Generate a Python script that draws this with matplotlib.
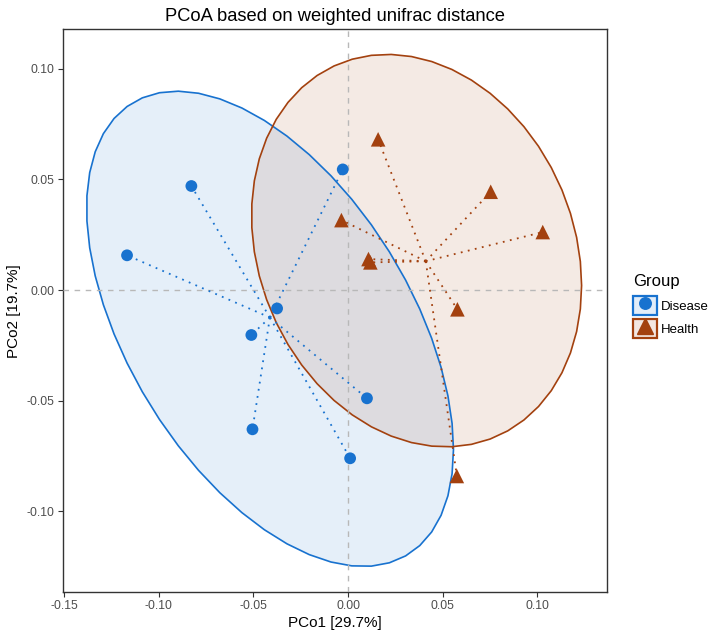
import numpy as np
import matplotlib
matplotlib.use("Agg")
import matplotlib.pyplot as plt
from matplotlib.patches import Patch, Polygon
from matplotlib.lines import Line2D
from matplotlib.legend_handler import HandlerTuple

plt.rcParams['font.family'] = ['Liberation Sans', 'DejaVu Sans']
plt.rcParams['axes.unicode_minus'] = False

# ---- data ----
groups = ["Disease", "Health"]
disease_x = [-0.0828, -0.1168, -0.0028, -0.0375, -0.0511, 0.0100, -0.0505, 0.0011]
disease_y = [0.0470, 0.0157, 0.0545, -0.0083, -0.0203, -0.0489, -0.0629, -0.0760]
health_x = [0.0159, -0.0035, 0.0108, 0.0118, 0.0578, 0.0754, 0.1029, 0.0575]
health_y = [0.0681, 0.0316, 0.0140, 0.0125, -0.0087, 0.0444, 0.0262, -0.0840]
x_ticks = [-0.15, -0.10, -0.05, 0.00, 0.05, 0.10]
y_ticks = [-0.10, -0.05, 0.00, 0.05, 0.10]
ellipse_level = 0.90
title = "PCoA based on weighted unifrac distance"
xlabel = "PCo1 [29.7%]"
ylabel = "PCo2 [19.7%]"

colors = {"Disease": "#1872CF", "Health": "#A3410F"}
markers = {"Disease": "o", "Health": "^"}
data = {"Disease": (disease_x, disease_y), "Health": (health_x, health_y)}


def cov_trob(x, nu=5, maxit=25, tol=0.01):
    """Port of MASS::cov.trob (multivariate t robust covariance)."""
    n, p = x.shape
    wt = np.ones(n)
    loc = x.mean(0)
    w = np.sqrt(wt)
    X = x - loc
    for _ in range(maxit):
        w0 = w
        X = x - loc
        _, d, vt = np.linalg.svd(np.sqrt(w / w.sum())[:, None] * X, full_matrices=False)
        wX = X @ vt.T @ np.diag(1.0 / d)
        Q = (wX ** 2).sum(1)
        w = (wt * (nu + p)) / (nu + Q)
        loc = (w[:, None] * x).sum(0) / w.sum()
        if np.all(np.abs(w - w0) < tol):
            break
    sw = np.sqrt(w)[:, None] * X
    cov = sw.T @ sw / wt.sum()
    return loc, cov


def ellipse_path(xs, ys, level, segments=51):
    pts = np.column_stack([xs, ys])
    n = len(xs)
    center, shape = cov_trob(pts)
    dfn, dfd = 2, n - 1
    fq = dfd / 2.0 * ((1 - level) ** (-2.0 / dfd) - 1)   # qf(level, 2, dfd)
    radius = np.sqrt(dfn * fq)
    ang = np.arange(segments + 1) * 2 * np.pi / segments
    circ = np.column_stack([np.cos(ang), np.sin(ang)])
    L = np.linalg.cholesky(shape)
    return center + radius * (circ @ L.T)


W, H = 709, 634
fig = plt.figure(figsize=(W / 100, H / 100), dpi=100)
ax = fig.add_axes([62.7 / W, 1 - 592 / H, (606.7 - 62.7) / W, (592 - 29.3) / H])

for g in groups:
    xs, ys = data[g]
    e = ellipse_path(xs, ys, ellipse_level)
    ax.add_patch(Polygon(e, closed=True, facecolor=colors[g], alpha=0.11,
                         edgecolor='none', zorder=1))
    ax.add_patch(Polygon(e, closed=True, facecolor='none',
                         edgecolor=colors[g], linewidth=1.2, zorder=2))

ax.axhline(0, color='#B8B8B8', linestyle=(0, (4, 4)), linewidth=1.0, zorder=3)
ax.axvline(0, color='#B8B8B8', linestyle=(0, (4, 4)), linewidth=1.0, zorder=3)

for g in groups:
    xs, ys = data[g]
    cx, cy = np.mean(xs), np.mean(ys)
    for x, y in zip(xs, ys):
        ax.plot([cx, x], [cy, y], color=colors[g], linestyle=(0, (1, 3)),
                linewidth=1.3, zorder=4)
    ax.scatter(xs, ys, s=72 if g == "Disease" else 110, marker=markers[g],
               color=colors[g], edgecolors='none', zorder=5)

ax.set_xlim(-0.1508, 0.1367)
ax.set_ylim(-0.1364, 0.1178)
ax.set_xticks(x_ticks)
ax.set_yticks(y_ticks)
ax.set_xticklabels([f"{v:.2f}" for v in x_ticks])
ax.set_yticklabels([f"{v:.2f}" for v in y_ticks])
ax.tick_params(axis='both', direction='out', length=3.5, width=0.8,
               color='#333333', labelcolor='#4D4D4D', labelsize=8.8, pad=2.5)
for s in ax.spines.values():
    s.set_color('#333333')
    s.set_linewidth(1.0)
ax.set_xlabel(xlabel, fontsize=11, color='black', labelpad=3)
ax.set_ylabel(ylabel, fontsize=11, color='black', labelpad=4)
ax.set_title(title, fontsize=13.2, color='black', pad=6)

handles = []
for g in groups:
    p = Patch(facecolor=colors[g], alpha=0.12, edgecolor='none')
    pe = Patch(facecolor='none', edgecolor=colors[g], linewidth=1.6)
    m = Line2D([], [], marker=markers[g], color=colors[g], linestyle='none',
               markersize=8.3 if g == "Disease" else 11.5)
    handles.append((p, pe, m))
leg = fig.legend(handles, groups, handler_map={tuple: HandlerTuple(ndivide=1, pad=0)},
                 loc='upper left', bbox_to_anchor=(633 / W, 1 - 274 / H),
                 title="Group", frameon=False, fontsize=9.5, title_fontsize=12,
                 handlelength=1.8, handleheight=1.85, handletextpad=0.35,
                 labelspacing=0.3, borderaxespad=0, borderpad=0)
leg._legend_box.align = "left"
leg._legend_box.sep = 5

fig.savefig("out.png", dpi=100)
